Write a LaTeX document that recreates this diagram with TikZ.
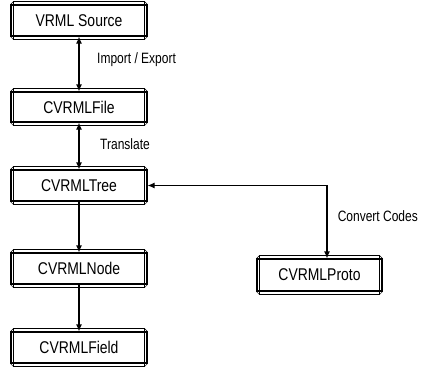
\documentclass[tikz,border=0pt]{standalone}
\usepackage{fontspec}
\usetikzlibrary{arrows.meta,calc}
\newfontfamily\boxfont[FakeStretch=0.82]{Liberation Sans}
\newfontfamily\labelfont[FakeStretch=0.8]{Liberation Sans}

\tikzset{
  framebox/.style={draw, line width=1.1pt, minimum width=136pt, minimum height=31pt,
    inner sep=0pt, font=\boxfont\fontsize{17}{20}\selectfont},
  link/.style={line width=1.1pt, -{Latex[length=7pt,width=6pt]}},
  biglink/.style={line width=1.1pt, {Latex[length=7pt,width=6pt]}-{Latex[length=7pt,width=6pt]}},
  lbl/.style={anchor=west, inner sep=0pt, font=\labelfont\fontsize{15}{18}\selectfont}
}

\begin{document}
\begin{tikzpicture}[x=1pt,y=-1pt]
  \useasboundingbox (0,0) rectangle (421,368);

  % component boxes
  \node[framebox] (src)   at (79,20.5)  {VRML Source};
  \node[framebox, minimum height=30pt] (file)  at (79,107) {CVRMLFile};
  \node[framebox] (tree)  at (79,185.5) {CVRMLTree};
  \node[framebox] (node)  at (79,268.5) {CVRMLNode};
  \node[framebox] (field) at (79,347.5) {CVRMLField};
  \node[framebox, minimum width=125pt, minimum height=32pt] (proto) at (319.5,275) {CVRMLProto};

  % inner frame line and bevelled corners of every box
  \foreach \b in {src,file,tree,node,field,proto}{
    \draw[line width=0.6pt] ($(\b.north west)+(3pt,3pt)$) rectangle ($(\b.south east)+(-3pt,-3pt)$);
    \draw[line width=0.5pt] (\b.north west) -- ($(\b.north west)+(3pt,3pt)$);
    \draw[line width=0.5pt] (\b.north east) -- ($(\b.north east)+(-3pt,3pt)$);
    \draw[line width=0.5pt] (\b.south west) -- ($(\b.south west)+(3pt,-3pt)$);
    \draw[line width=0.5pt] (\b.south east) -- ($(\b.south east)+(-3pt,-3pt)$);
  }

  % connectors
  \draw[biglink] (src) -- (file);
  \draw[biglink] (file) -- (tree);
  \draw[link] (tree) -- (node);
  \draw[link] (node) -- (field);
  \coordinate (bend) at (327,185.5);
  \draw[biglink] (tree.east) -- (bend) -- (bend |- proto.north);

  % connector labels
  \node[lbl] (limp) at (97,60)  {Import / Export};
  \node[lbl] (ltr)  at (100,144) {Translate};
  \node[lbl, anchor=east] (lcc)  at (418,216) {Convert Codes};
\end{tikzpicture}
\end{document}
